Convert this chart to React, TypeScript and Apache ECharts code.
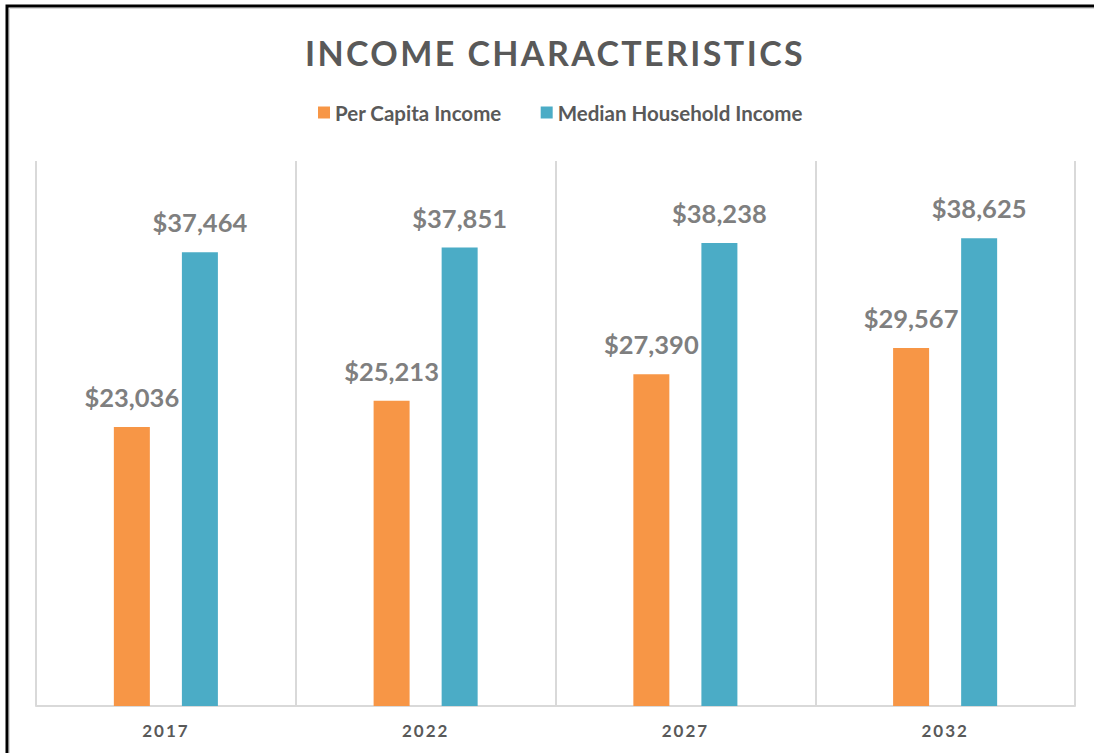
import React, { useEffect, useRef } from 'react';
import * as echarts from 'echarts';

const years = ['2017', '2022', '2027', '2032'];
const perCapitaIncome = [23036, 25213, 27390, 29567];
const medianHouseholdIncome = [37464, 37851, 38238, 38625];
const seriesNames = ['Per Capita Income', 'Median Household Income'];
const titleText = 'INCOME CHARACTERISTICS';
const yMin = 0;
const yMax = 45000;

export default function App() {
  const ref = useRef<HTMLDivElement>(null);
  useEffect(() => {
    document.documentElement.style.overflow = 'hidden';
    document.body.style.overflow = 'hidden';
    const chart = echarts.init(ref.current!, null, { renderer: 'svg' });
    const fmt = (p: any) => '$' + Number(p.value).toLocaleString('en-US');
    const labelStyle = {
      show: true,
      position: 'top',
      distance: 17,
      formatter: fmt,
      color: '#7f7f7f',
      fontFamily: 'Lato',
      fontWeight: 'bold',
      fontSize: 25.5,
    };
    chart.setOption({
      animation: false,
      backgroundColor: '#ffffff',
      title: {
        text: titleText,
        left: 550,
        textAlign: 'center',
        top: 30,
        textStyle: { color: '#595959', fontFamily: 'Lato', fontWeight: 'bold', fontSize: 34 },
      },
      legend: {
        top: 97,
        left: 313,
        icon: 'rect',
        itemWidth: 12,
        itemHeight: 12,
        itemGap: 39,
        textStyle: { color: '#595959', fontFamily: 'Lato', fontWeight: 'bold', fontSize: 20.5 },
        data: seriesNames,
      },
      grid: { left: 36, right: 19, top: 161, bottom: 47, containLabel: false },
      xAxis: {
        type: 'category',
        data: years,
        boundaryGap: true,
        axisLine: { show: true, lineStyle: { color: '#d9d9d9', width: 2 } },
        axisTick: { show: false },
        axisLabel: { color: '#595959', fontFamily: 'Lato', fontWeight: 'bold', fontSize: 17, margin: 16 },
        splitLine: { show: true, lineStyle: { color: '#d9d9d9', width: 2 } },
      },
      yAxis: {
        type: 'value',
        min: yMin,
        max: yMax,
        show: false,
        splitLine: { show: false },
      },
      series: [
        {
          name: seriesNames[0],
          type: 'bar',
          data: perCapitaIncome,
          barWidth: 36,
          barGap: '89%',
          itemStyle: { color: '#F79646' },
          label: labelStyle,
        },
        {
          name: seriesNames[1],
          type: 'bar',
          data: medianHouseholdIncome,
          barWidth: 36,
          barGap: '89%',
          itemStyle: { color: '#4BACC6' },
          label: labelStyle,
        },
      ],
      graphic: [
        {
          type: 'polyline',
          silent: true,
          shape: { points: [[9.5, 753], [9.5, 8.5], [1094, 8.5]] },
          style: { fill: 'none', stroke: '#d9d9d9', lineWidth: 1, lineCap: 'butt' },
        },
        {
          type: 'polyline',
          silent: true,
          shape: { points: [[7, 753], [7, 6], [1094, 6]] },
          style: { fill: 'none', stroke: '#000000', lineWidth: 3, lineCap: 'butt' },
        },
      ],
    });
    const applySpacing = () => {
      const root = ref.current;
      if (!root) return;
      root.querySelectorAll('text').forEach((t) => {
        const s = t.textContent || '';
        if (s === titleText) t.setAttribute('letter-spacing', '2.4');
        else if (years.includes(s)) t.setAttribute('letter-spacing', '2');
      });
    };
    chart.on('finished', applySpacing);
    applySpacing();
    const timer = setTimeout(applySpacing, 0);
    return () => {
      clearTimeout(timer);
      chart.dispose();
    };
  }, []);
  return (
    <div
      ref={ref}
      style={{ position: 'fixed', left: 0, top: 0, width: 1094, height: 753, background: '#fff', overflow: 'hidden' }}
    />
  );
}
